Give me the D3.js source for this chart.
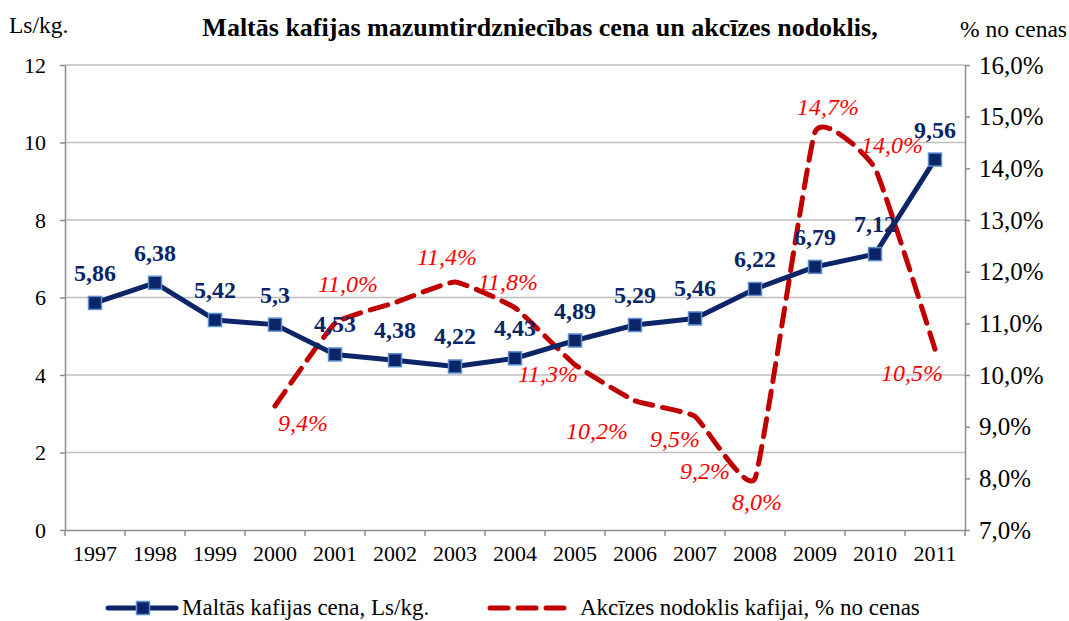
<!DOCTYPE html>
<html>
<head>
<meta charset="utf-8">
<script src="https://cdn.jsdelivr.net/npm/d3@7"></script>
<style>
  body { margin: 0; background: #fff; }
  svg text { font-family: "Liberation Serif", "Times New Roman", "DejaVu Serif", serif; }
</style>
</head>
<body>
<svg id="drawing_region"></svg>
<script>
// data
const years = ['1997','1998','1999','2000','2001','2002','2003','2004','2005','2006','2007','2008','2009','2010','2011'];
const price = [5.86, 6.38, 5.42, 5.3, 4.53, 4.38, 4.22, 4.43, 4.89, 5.29, 5.46, 6.22, 6.79, 7.12, 9.56];
const excise = [null, null, null, 9.4, 11.0, 11.4, 11.8, 11.3, 10.2, 9.5, 9.2, 8.0, 14.7, 14.0, 10.5];
const leftTicks = [0, 2, 4, 6, 8, 10, 12];
const rightTicks = [7, 8, 9, 10, 11, 12, 13, 14, 15, 16];

const titleText = 'Maltās kafijas mazumtirdzniecības cena un akcīzes nodoklis,';
const priceName = 'Maltās kafijas cena, Ls/kg.';
const exciseName = 'Akcīzes nodoklis kafijai, % no cenas';

// where the red % labels sit relative to their points (label centre, px)
const exciseLabelShift = [null, null, null, [28,17], [13,-39], [52,-46], [53,0], [33,66], [22,66], [40,38], [10,55], [2,24], [13,-25], [17,-23], [-23,24]];

const config = {
    parent: '#drawing_region',
    width: 1069,
    height: 621,
    margin: {top:65, right:104, bottom:91, left:65}
};

const FONT = '"Liberation Serif", "Times New Roman", serif';
const navy = '#0b2566';
const red = '#c00000';

const svg = d3.select(config.parent)
    .attr('width', config.width)
    .attr('height', config.height);

const inner_width = config.width - config.margin.left - config.margin.right;
const inner_height = config.height - config.margin.top - config.margin.bottom;

const chart = svg.append('g')
    .attr('transform', `translate(${config.margin.left}, ${config.margin.top})`);

const xscale = d3.scaleBand().domain(years).range([0, inner_width]);
const yleft = d3.scaleLinear().domain([0, 12]).range([inner_height, 0]);
const yright = d3.scaleLinear().domain([7, 16]).range([inner_height, 0]);
const cx = d => xscale(d) + xscale.bandwidth() / 2;

// gridlines
chart.append('g')
    .selectAll('line')
    .data(leftTicks.filter(t => t > 0))
    .join('line')
    .attr('x1', 0).attr('x2', inner_width)
    .attr('y1', d => yleft(d)).attr('y2', d => yleft(d))
    .attr('stroke', '#bfbfbf').attr('stroke-width', 1.5);

// axes
const axisStyle = size => g => {
    g.attr('font-family', FONT);
    g.select('.domain').attr('stroke', '#8c8c8c').attr('stroke-width', 1.5);
    g.selectAll('.tick line').attr('stroke', '#8c8c8c').attr('stroke-width', 1.5);
    g.selectAll('.tick text').attr('fill', '#000').attr('font-size', size);
};

chart.append('g')
    .call(d3.axisLeft(yleft).tickValues(leftTicks).tickSize(5).tickPadding(14).tickSizeOuter(0))
    .call(axisStyle(22));

chart.append('g')
    .attr('transform', `translate(${inner_width}, 0)`)
    .call(d3.axisRight(yright).tickValues(rightTicks).tickSize(5).tickPadding(9).tickSizeOuter(0)
        .tickFormat(d => d3.format('.1f')(d).replace('.', ',') + '%'))
    .call(axisStyle(25));

const xaxis_group = chart.append('g')
    .attr('transform', `translate(0, ${inner_height})`)
    .call(d3.axisBottom(xscale).tickSize(0).tickPadding(15).tickSizeOuter(0))
    .call(axisStyle(22));
// ticks between the categories
xaxis_group.selectAll('.cat-tick')
    .data(d3.range(years.length + 1))
    .join('line')
    .attr('x1', i => i * xscale.step()).attr('x2', i => i * xscale.step())
    .attr('y1', 0).attr('y2', 6)
    .attr('stroke', '#8c8c8c').attr('stroke-width', 1.5);

// excise line (smoothed, dashed)
const exciseData = years.map((y, i) => ({year: y, v: excise[i], shift: exciseLabelShift[i]}))
    .filter(d => d.v !== null);

chart.append('path')
    .datum(exciseData)
    .attr('fill', 'none')
    .attr('stroke', red)
    .attr('stroke-width', 5)
    .attr('stroke-dasharray', '18 10')
    .attr('stroke-linecap', 'round')
    .attr('d', d3.line().x(d => cx(d.year)).y(d => yright(d.v)).curve(d3.curveCardinal.tension(0.62)));

// price line
const priceData = years.map((y, i) => ({year: y, v: price[i]}));

chart.append('path')
    .datum(priceData)
    .attr('fill', 'none')
    .attr('stroke', navy)
    .attr('stroke-width', 5)
    .attr('stroke-linejoin', 'round')
    .attr('d', d3.line().x(d => cx(d.year)).y(d => yleft(d.v)));

chart.selectAll('.marker')
    .data(priceData)
    .join('rect')
    .attr('x', d => cx(d.year) - 6.5)
    .attr('y', d => yleft(d.v) - 6.5)
    .attr('width', 13).attr('height', 13)
    .attr('fill', navy)
    .attr('stroke', '#5b8fd0').attr('stroke-width', 1.5);

// labels
chart.selectAll('.price-label')
    .data(priceData)
    .join('text')
    .attr('x', d => cx(d.year))
    .attr('y', d => yleft(d.v) - 22)
    .attr('text-anchor', 'middle')
    .attr('font-family', FONT)
    .attr('font-size', 24)
    .attr('font-weight', 'bold')
    .attr('fill', navy)
    .text(d => String(d.v).replace('.', ','));

chart.selectAll('.excise-label')
    .data(exciseData)
    .join('text')
    .attr('x', d => cx(d.year) + d.shift[0])
    .attr('y', d => yright(d.v) + d.shift[1] + 8)
    .attr('text-anchor', 'middle')
    .attr('font-family', FONT)
    .attr('font-size', 24)
    .attr('font-style', 'italic')
    .attr('fill', '#ff0000')
    .text(d => d3.format('.1f')(d.v).replace('.', ',') + '%');

// titles
svg.append('text')
    .attr('x', 540).attr('y', 36)
    .attr('text-anchor', 'middle')
    .attr('font-family', FONT)
    .attr('font-size', 26).attr('font-weight', 'bold')
    .text(titleText);

svg.append('text')
    .attr('x', 9).attr('y', 33)
    .attr('font-family', FONT)
    .attr('font-size', 23.5)
    .text('Ls/kg.');

svg.append('text')
    .attr('x', 1067).attr('y', 37)
    .attr('text-anchor', 'end')
    .attr('font-family', FONT)
    .attr('font-size', 23.5)
    .text('% no cenas');

// legend
const legend = svg.append('g').attr('font-family', FONT);
legend.append('line')
    .attr('x1', 108).attr('x2', 176).attr('y1', 608).attr('y2', 608)
    .attr('stroke', navy).attr('stroke-width', 5).attr('stroke-linecap', 'round');
legend.append('rect')
    .attr('x', 136.5).attr('y', 601.5).attr('width', 13).attr('height', 13)
    .attr('fill', navy).attr('stroke', '#5b8fd0').attr('stroke-width', 1.5);
legend.append('text')
    .attr('x', 182).attr('y', 615)
    .attr('font-size', 23)
    .text(priceName);

legend.append('line')
    .attr('x1', 490).attr('x2', 565).attr('y1', 608).attr('y2', 608)
    .attr('stroke', red).attr('stroke-width', 5)
    .attr('stroke-dasharray', '18 10').attr('stroke-linecap', 'round');
legend.append('text')
    .attr('x', 580).attr('y', 615)
    .attr('font-size', 23)
    .text(exciseName);
</script>
</body>
</html>
